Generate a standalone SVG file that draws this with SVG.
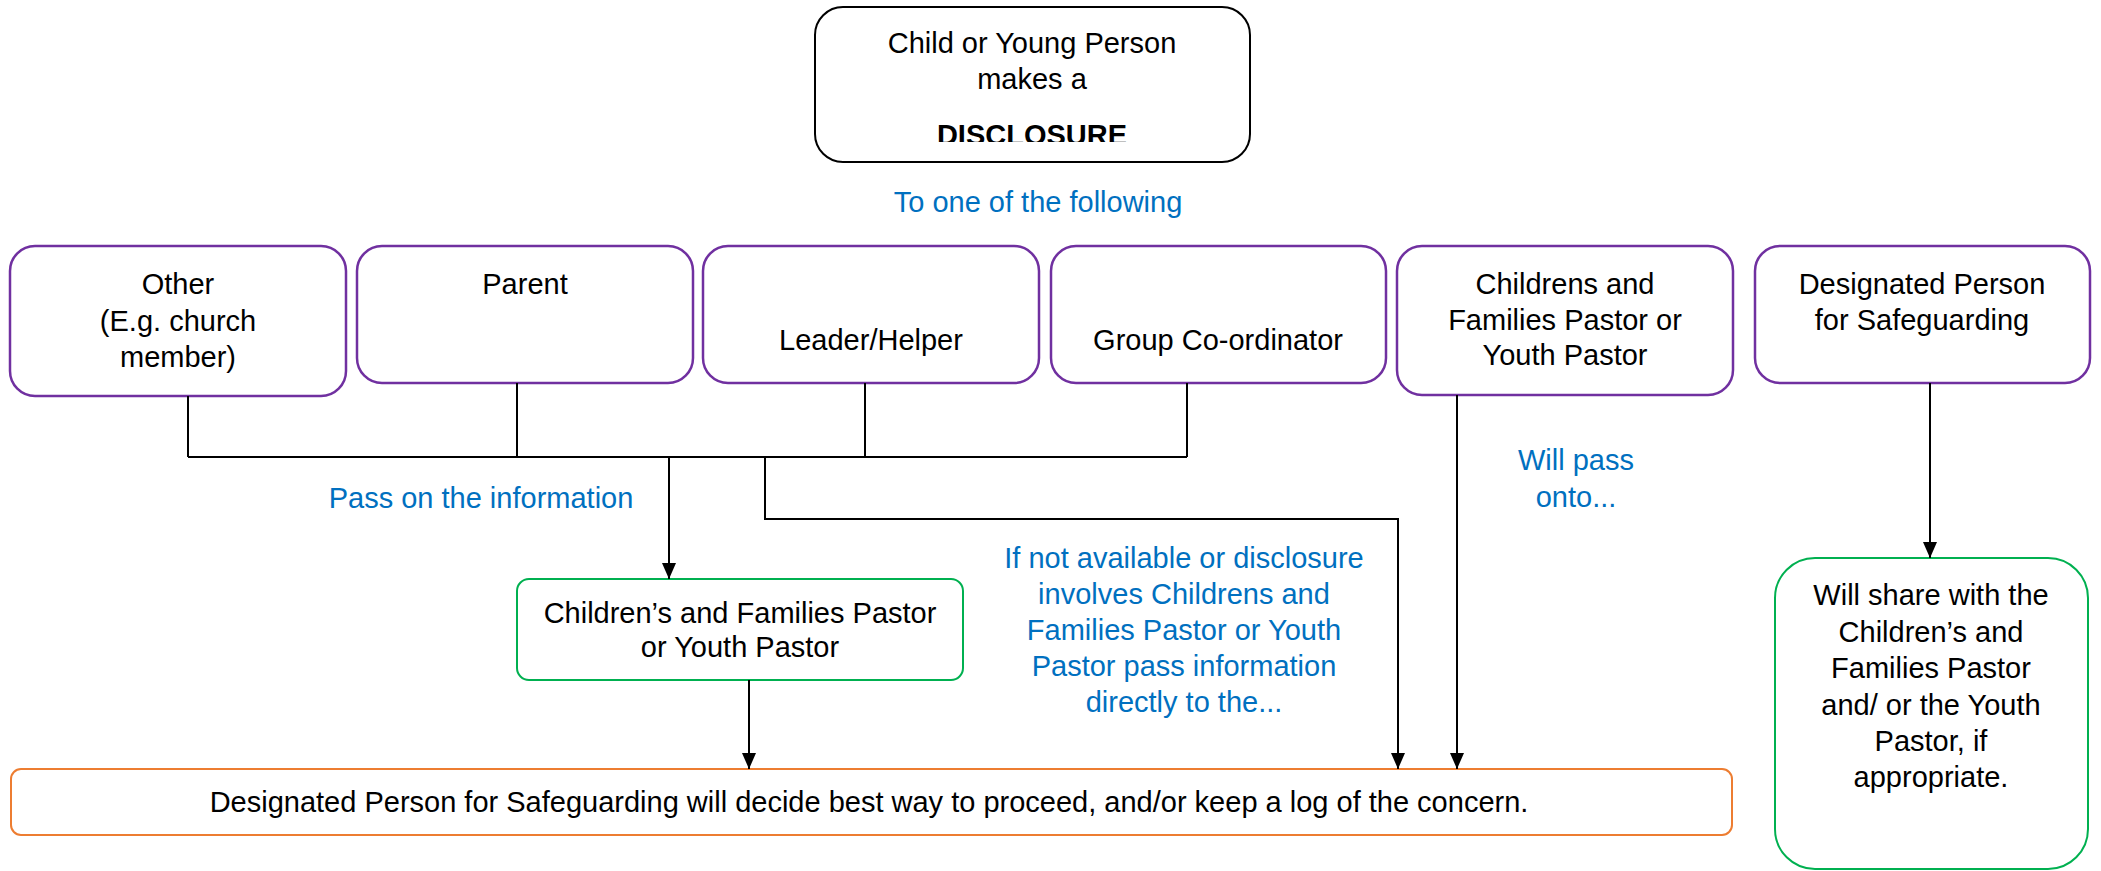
<svg xmlns="http://www.w3.org/2000/svg" width="2101" height="871" viewBox="0 0 2101 871">
<style>
text{font-family:"Liberation Sans",Arial,sans-serif;font-size:29px;fill:#000;text-anchor:middle}
.blue{fill:#0070C0}
.pb{fill:#fff;stroke:#7030A0;stroke-width:2.5}
.ln{fill:none;stroke:#000;stroke-width:2}
</style>
<defs>
<marker id="a" markerWidth="16" markerHeight="14" refX="16" refY="7" orient="auto" markerUnits="userSpaceOnUse" viewBox="0 0 16 14">
<path d="M0,0 L16,7 L0,14 Z" fill="#000"/>
</marker>
<clipPath id="tc"><rect x="815" y="7" width="435" height="135"/></clipPath>
</defs>

<g id="n-top">
<rect x="815" y="7" width="435" height="155" rx="28" fill="#fff" stroke="#000" stroke-width="2"/>
<text x="1032" y="53">Child or Young Person</text>
<text x="1032" y="89">makes a</text>
<text x="1032" y="145" font-weight="bold" clip-path="url(#tc)">DISCLOSURE</text>
</g>

<text class="blue" x="1038" y="212">To one of the following</text>

<g id="n-other">
<rect class="pb" x="10" y="246" width="336" height="150" rx="25"/>
<text x="178" y="294">Other</text>
<text x="178" y="331">(E.g. church</text>
<text x="178" y="367">member)</text>
</g>
<g id="n-parent">
<rect class="pb" x="357" y="246" width="336" height="137" rx="25"/>
<text x="525" y="294">Parent</text>
</g>
<g id="n-leader">
<rect class="pb" x="703" y="246" width="336" height="137" rx="25"/>
<text x="871" y="350">Leader/Helper</text>
</g>
<g id="n-group">
<rect class="pb" x="1051" y="246" width="335" height="137" rx="25"/>
<text x="1218" y="350">Group Co-ordinator</text>
</g>
<g id="n-cfp">
<rect class="pb" x="1397" y="246" width="336" height="149" rx="25"/>
<text x="1565" y="294">Childrens and</text>
<text x="1565" y="330">Families Pastor or</text>
<text x="1565" y="365">Youth Pastor</text>
</g>
<g id="n-dps">
<rect class="pb" x="1755" y="246" width="335" height="137" rx="25"/>
<text x="1922" y="294">Designated Person</text>
<text x="1922" y="330">for Safeguarding</text>
</g>

<g id="n-cfp2">
<rect x="517" y="579" width="446" height="101" rx="12" fill="#fff" stroke="#00B050" stroke-width="2"/>
<text x="740" y="623">Children’s and Families Pastor</text>
<text x="740" y="657">or Youth Pastor</text>
</g>

<g id="n-dps2">
<rect x="11" y="769" width="1721" height="66" rx="10" fill="#fff" stroke="#ED7D31" stroke-width="2"/>
<text x="869" y="812" font-size="29.2">Designated Person for Safeguarding will decide best way to proceed, and/or keep a log of the concern.</text>
</g>

<g id="n-share">
<rect x="1775" y="558" width="313" height="311" rx="40" fill="#fff" stroke="#00B050" stroke-width="2"/>
<text x="1931" y="605">Will share with the</text>
<text x="1931" y="642">Children’s and</text>
<text x="1931" y="678">Families Pastor</text>
<text x="1931" y="715">and/ or the Youth</text>
<text x="1931" y="751">Pastor, if</text>
<text x="1931" y="787">appropriate.</text>
</g>

<g id="labels">
<text class="blue" x="481" y="508">Pass on the information</text>
<text class="blue" x="1576" y="470">Will pass</text>
<text class="blue" x="1576" y="507">onto...</text>
<text class="blue" x="1184" y="568">If not available or disclosure</text>
<text class="blue" x="1184" y="604">involves Childrens and</text>
<text class="blue" x="1184" y="640">Families Pastor or Youth</text>
<text class="blue" x="1184" y="676">Pastor pass information</text>
<text class="blue" x="1184" y="712">directly to the...</text>
</g>

<g id="connectors">
<path class="ln" d="M188,396 V457 M517,383 V457 M865,383 V457 M1187,383 V457 M188,457 H1187"/>
<path class="ln" d="M669,457 V579" marker-end="url(#a)"/>
<path class="ln" d="M765,457 V519 H1398 V769" marker-end="url(#a)"/>
<path class="ln" d="M1457,395 V769" marker-end="url(#a)"/>
<path class="ln" d="M1930,383 V558" marker-end="url(#a)"/>
<path class="ln" d="M749,680 V769" marker-end="url(#a)"/>
</g>
</svg>
